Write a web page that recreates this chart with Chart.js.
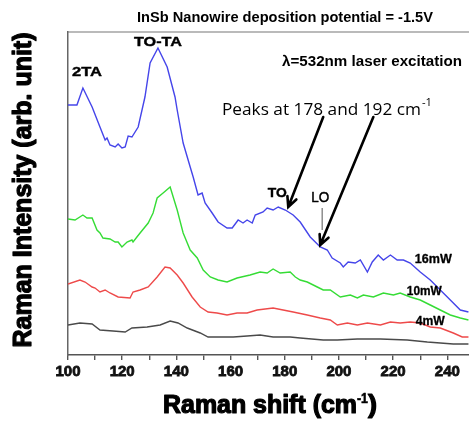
<!DOCTYPE html>
<html>
<head>
<meta charset="utf-8">
<script src="https://cdn.jsdelivr.net/npm/chart.js@4.4.1/dist/chart.umd.min.js"></script>
<style>
  html, body { margin: 0; padding: 0; background: #fff; }
  #wrap { width: 469px; height: 421px; position: relative; }
</style>
</head>
<body>
<div id="wrap"><canvas id="raman"></canvas></div>
<script>
// --- Data (x: Raman shift in cm-1, y: intensity in arb. units) ---
const shift16 = [100.0, 103.3, 105.5, 108.9, 111.8, 113.7, 114.4, 115.5, 117.4, 118.5, 119.9, 121.1, 122.2, 123.6, 125.9, 128.4, 130.3, 133.2, 136.6, 139.5, 140.3, 142.5, 145.1, 146.2, 148.0, 149.5, 150.6, 153.2, 155.4, 158.7, 160.6, 162.8, 164.6, 166.1, 168.0, 169.1, 172.0, 173.5, 175.7, 177.6, 180.2, 183.1, 185.7, 189.4, 193.1, 195.7, 197.5, 200.5, 201.6, 203.4, 206.0, 207.9, 210.5, 212.3, 214.5, 216.4, 219.0, 221.5, 223.8, 226.3, 230.0, 233.7, 237.4, 241.1, 244.8, 247.8];
const int16   = [250, 250, 267, 248, 228, 215, 217, 210, 208, 211, 207, 208, 219, 218, 228, 258, 292, 307, 288, 258, 245, 212, 188, 178, 160, 162, 152, 142, 133, 127, 127, 135, 132, 135, 132, 140, 143, 147, 145, 148, 145, 140, 133, 118, 108, 105, 97, 92, 88, 93, 92, 95, 83, 93, 100, 95, 100, 95, 95, 92, 83, 75, 65, 55, 45, 43];

const shift10 = [100.0, 102.6, 105.5, 107.0, 108.9, 110.7, 111.8, 112.9, 115.5, 117.4, 118.5, 119.9, 121.8, 123.6, 124.0, 126.6, 129.6, 131.4, 132.9, 135.1, 137.7, 140.3, 142.5, 145.1, 147.7, 149.9, 152.5, 155.4, 158.7, 162.4, 167.2, 170.9, 173.5, 175.7, 178.3, 182.0, 183.9, 185.7, 188.3, 192.0, 194.2, 196.8, 200.5, 204.2, 206.8, 209.0, 212.7, 216.4, 220.1, 222.6, 226.3, 230.0, 233.7, 237.4, 241.1, 244.8, 247.8];
const int10   = [136, 135, 140, 137, 137, 125, 122, 117, 116, 113, 113, 108, 113, 115, 113, 122, 132, 142, 157, 162, 168, 145, 122, 105, 97, 85, 78, 75, 73, 77, 80, 83, 82, 86, 82, 83, 78, 75, 73, 68, 65, 65, 58, 60, 57, 60, 58, 62, 60, 62, 58, 55, 50, 45, 40, 37, 35];

const shift4 = [100.0, 104.4, 106.3, 108.9, 110.0, 111.8, 113.7, 115.5, 118.5, 122.9, 124.0, 126.6, 129.6, 132.9, 135.8, 137.7, 140.3, 142.5, 145.8, 148.8, 151.7, 155.0, 158.7, 162.4, 166.1, 169.8, 175.7, 179.4, 183.1, 188.3, 193.1, 196.8, 199.4, 203.1, 206.8, 210.5, 215.3, 219.0, 222.6, 226.3, 230.0, 233.7, 237.4, 242.2, 245.5, 247.8];
const int4   = [71, 75, 73, 68, 67, 63, 65, 62, 58, 57, 63, 65, 68, 78, 88, 87, 80, 72, 58, 48, 43, 42, 40, 42, 42, 45, 47, 45, 43, 40, 37, 35, 30, 32, 30, 32, 30, 33, 32, 33, 32, 28, 27, 22, 18, 18];

const shiftLow = [100.0, 104.4, 108.9, 111.8, 116.6, 121.1, 123.6, 129.2, 134.0, 137.7, 140.6, 144.0, 148.8, 151.7, 156.2, 161.0, 166.1, 170.9, 175.7, 182.0, 185.7, 194.2, 199.4, 206.8, 215.3, 225.2, 232.6, 237.4, 242.2, 247.8];
const intLow   = [30, 32, 31, 25, 24, 23, 27, 28, 30, 34, 32, 27, 22, 18, 18, 18, 19, 20, 18, 18, 17, 15, 15, 16, 16, 15, 13, 12, 11, 11];

const xTickLabels = [100, 120, 140, 160, 180, 200, 220, 240];
const xMinorStep = 10;

// annotation texts, placed in data units
const peakNames  = [{ text: '2TA', x: 107.0, y: 283, w: 30 }, { text: 'TO-TA', x: 133.2, y: 313, w: 48 }, { text: 'TO', x: 177.2, y: 162, w: 19 }];
const powerNames = [{ text: '16mW', x: 234.8, y: 95, w: 37 }, { text: '10mW', x: 231.5, y: 63, w: 35 }, { text: '4mW', x: 233.7, y: 33, w: 29 }];
const arrows = [{ from: [194.2, 238], to: [181.3, 148] }, { from: [212.7, 238], to: [193.1, 110] }];

const pts = (xs, ys) => xs.map((x, i) => ({ x: x, y: ys[i] }));

// --- text helpers (stretch to the width measured on the picture) ---
function fitText(ctx, text, x, y, font, width, align, baseline, stroke) {
    ctx.save();
    ctx.font = font;
    ctx.fillStyle = '#000';
    ctx.textAlign = align || 'center';
    ctx.textBaseline = baseline || 'middle';
    const w = ctx.measureText(text).width;
    ctx.translate(x, y);
    ctx.scale(width / w, 1);
    ctx.fillText(text, 0, 0);
    if (stroke) {
        // heavier look, like the original's black face
        ctx.strokeStyle = '#000';
        ctx.lineWidth = stroke;
        ctx.lineJoin = 'round';
        ctx.strokeText(text, 0, 0);
    }
    ctx.restore();
}

function drawArrow(ctx, x1, y1, x2, y2) {
    const ang = Math.atan2(y2 - y1, x2 - x1);
    const head = 11;
    ctx.beginPath();
    ctx.moveTo(x1, y1);
    ctx.lineTo(x2, y2);
    ctx.moveTo(x2 - head * Math.cos(ang - 0.45), y2 - head * Math.sin(ang - 0.45));
    ctx.lineTo(x2, y2);
    ctx.lineTo(x2 - head * Math.cos(ang + 0.45), y2 - head * Math.sin(ang + 0.45));
    ctx.stroke();
}

const annotations = {
    id: 'annotations',
    afterDraw(chart) {
        const ctx = chart.ctx;
        const xs = chart.scales.x, ys = chart.scales.y;
        const area = chart.chartArea;
        const bold = 'bold 13px "Liberation Sans", Arial, sans-serif';

        // top frame line
        ctx.save();
        ctx.strokeStyle = '#777';
        ctx.lineWidth = 1.2;
        ctx.beginPath();
        ctx.moveTo(area.left, area.top);
        ctx.lineTo(area.right, area.top);
        ctx.stroke();
        ctx.restore();

        // title and laser note
        fitText(ctx, 'InSb Nanowire deposition potential = -1.5V', 285, 18, 'bold 14px "Liberation Sans", Arial, sans-serif', 296);
        fitText(ctx, '\u03bb=532nm laser excitation', 372, 62, 'bold 14px "Liberation Sans", Arial, sans-serif', 180);

        peakNames.forEach(p => fitText(ctx, p.text, xs.getPixelForValue(p.x), ys.getPixelForValue(p.y), bold, p.w, 'center', 'middle', 0.4));
        powerNames.forEach(p => fitText(ctx, p.text, xs.getPixelForValue(p.x), ys.getPixelForValue(p.y), 'bold 12px "Liberation Sans", Arial, sans-serif', p.w, 'center', 'middle', 0.3));
        fitText(ctx, 'LO', xs.getPixelForValue(193.1), ys.getPixelForValue(157), '15px "Liberation Sans", Arial, sans-serif', 18, 'center', 'middle', 0.5);

        // thin marker under LO
        ctx.save();
        ctx.strokeStyle = '#555';
        ctx.lineWidth = 1;
        ctx.beginPath();
        ctx.moveTo(xs.getPixelForValue(193.8), ys.getPixelForValue(147));
        ctx.lineTo(xs.getPixelForValue(193.8), ys.getPixelForValue(125));
        ctx.stroke();
        ctx.restore();

        // peaks note with arrows
        fitText(ctx, 'Peaks at 178 and 192 cm', 222, 115, '17px "Open Sans", sans-serif', 199, 'left', 'alphabetic');
        fitText(ctx, '-1', 422, 106, '11px "Open Sans", sans-serif', 10, 'left', 'alphabetic');
        ctx.save();
        ctx.strokeStyle = '#000';
        ctx.lineWidth = 2.6;
        ctx.lineCap = 'round';
        arrows.forEach(a => drawArrow(ctx,
            xs.getPixelForValue(a.from[0]), ys.getPixelForValue(a.from[1]),
            xs.getPixelForValue(a.to[0]), ys.getPixelForValue(a.to[1])));
        ctx.restore();

        // axis titles
        const tf = 'bold 25px "Liberation Sans", Arial, sans-serif';
        fitText(ctx, 'Raman shift (cm', 163, 413, tf, 194, 'left', 'alphabetic', 1.2);
        fitText(ctx, '-1', 357, 403, 'bold 14px "Liberation Sans", Arial, sans-serif', 11, 'left', 'alphabetic', 0.6);
        fitText(ctx, ')', 368, 413, tf, 9, 'left', 'alphabetic', 1.2);

        ctx.save();
        ctx.translate(31, 190);
        ctx.rotate(-Math.PI / 2);
        fitText(ctx, 'Raman Intensity (arb. unit)', 0, 0, tf, 315, 'center', 'alphabetic', 1.2);
        ctx.restore();
    }
};

new Chart(document.getElementById('raman'), {
    type: 'line',
    data: {
        datasets: [
            { label: '16mW', data: pts(shift16, int16), borderColor: '#4545ea' },
            { label: '10mW', data: pts(shift10, int10), borderColor: '#35dc35' },
            { label: '4mW', data: pts(shift4, int4), borderColor: '#ee4a4a' },
            { label: 'low', data: pts(shiftLow, intLow), borderColor: '#4a4a4a' }
        ]
    },
    options: {
        responsive: true,
        maintainAspectRatio: false,
        animation: false,
        layout: { padding: { left: 68, top: 32, right: 0, bottom: 0 } },
        elements: {
            line: { borderWidth: 1.4, tension: 0, fill: false },
            point: { radius: 0 }
        },
        plugins: { legend: { display: false }, tooltip: { enabled: false } },
        scales: {
            x: {
                type: 'linear',
                min: 100,
                max: 248,
                afterBuildTicks: s => {
                    const t = [];
                    for (let v = xTickLabels[0]; v <= xTickLabels[xTickLabels.length - 1]; v += xMinorStep) t.push({ value: v });
                    s.ticks = t;
                },
                afterFit: s => { s.height = 66; },
                grid: { drawOnChartArea: false, drawTicks: true, tickLength: 5, color: '#555', lineWidth: 1.4 },
                border: { display: true, color: '#555', width: 1.5 },
                ticks: {
                    autoSkip: false,
                    maxRotation: 0,
                    padding: 3,
                    color: '#111',
                    textStrokeColor: '#111',
                    textStrokeWidth: 0.8,
                    font: { family: '"Liberation Sans", Arial, sans-serif', size: 15, weight: 'bold' },
                    callback: v => xTickLabels.includes(v) ? String(v) : ''
                }
            },
            y: {
                min: 0,
                max: 323,
                afterFit: s => { s.width = 0; },
                grid: { display: false },
                border: { display: true, color: '#666', width: 1.5 },
                ticks: { display: false }
            }
        }
    },
    plugins: [annotations]
});
</script>
</body>
</html>
